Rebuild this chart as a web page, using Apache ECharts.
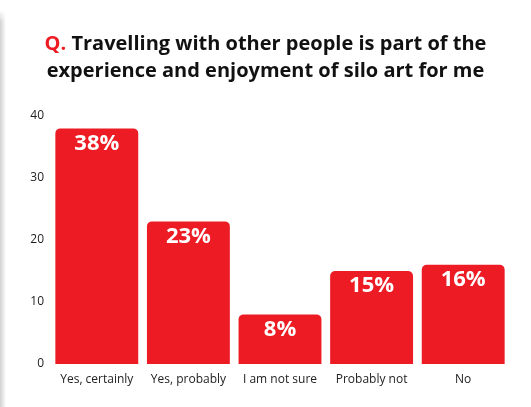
<!DOCTYPE html>
<html>
<head>
<meta charset="utf-8">
<script src="https://cdn.jsdelivr.net/npm/echarts@6/dist/echarts.min.js"></script>
<style>
  html, body { margin: 0; padding: 0; background: #fff; overflow: hidden; }
  #edge { position: absolute; left: 0; top: 10px; width: 6px; height: 400px;
          background: linear-gradient(to right, rgba(0,0,0,0.18), rgba(0,0,0,0.0));
          -webkit-mask-image: linear-gradient(to bottom, transparent 0px, #000 12px);
          mask-image: linear-gradient(to bottom, transparent 0px, #000 12px); }
  #chart { position: absolute; left: 0; top: 0; width: 531px; height: 407px; }
</style>
</head>
<body>
<div id="edge"></div>
<div id="chart"></div>
<script>
const categories = ['Yes, certainly', 'Yes, probably', 'I am not sure', 'Probably not', 'No'];
const values = [38, 23, 8, 15, 16];
const yTicks = [0, 10, 20, 30, 40];

const chart = echarts.init(document.getElementById('chart'), null, { renderer: 'canvas' });
chart.setOption({
  backgroundColor: 'transparent',
  animation: false,
  title: {
    text: '{q|Q.} Travelling with other people is part of the\nexperience and enjoyment of silo art for me',
    left: 'center',
    top: 26,
    textStyle: {
      fontFamily: 'Open Sans',
      fontSize: 20,
      fontWeight: 'bold',
      color: '#111',
      lineHeight: 27,
      rich: {
        q: { color: '#ED1C24', fontFamily: 'Open Sans', fontSize: 20, fontWeight: 'bold', lineHeight: 27 }
      }
    }
  },
  grid: { left: 51, right: 22, top: 116, bottom: 43, containLabel: false },
  xAxis: {
    type: 'category',
    data: categories,
    axisLine: { show: false },
    axisTick: { show: false },
    axisLabel: { color: '#222', fontFamily: 'Open Sans', fontSize: 12, margin: 10, interval: 0 }
  },
  yAxis: {
    type: 'value',
    min: yTicks[0],
    max: yTicks[yTicks.length - 1],
    interval: 10,
    splitLine: { show: false },
    axisLine: { show: false },
    axisTick: { show: false },
    axisLabel: { color: '#222', fontFamily: 'Open Sans', fontSize: 12, margin: 7 }
  },
  series: [{
    type: 'bar',
    data: values,
    barCategoryGap: '9.5%',
    itemStyle: { color: '#ED1C24', borderRadius: [5, 5, 0, 0] },
    label: {
      show: true,
      position: 'insideTop',
      distance: 4,
      formatter: '{c}%',
      color: '#fff',
      fontFamily: 'Open Sans',
      fontWeight: 'bold',
      fontSize: 22
    }
  }]
});
</script>
</body>
</html>
